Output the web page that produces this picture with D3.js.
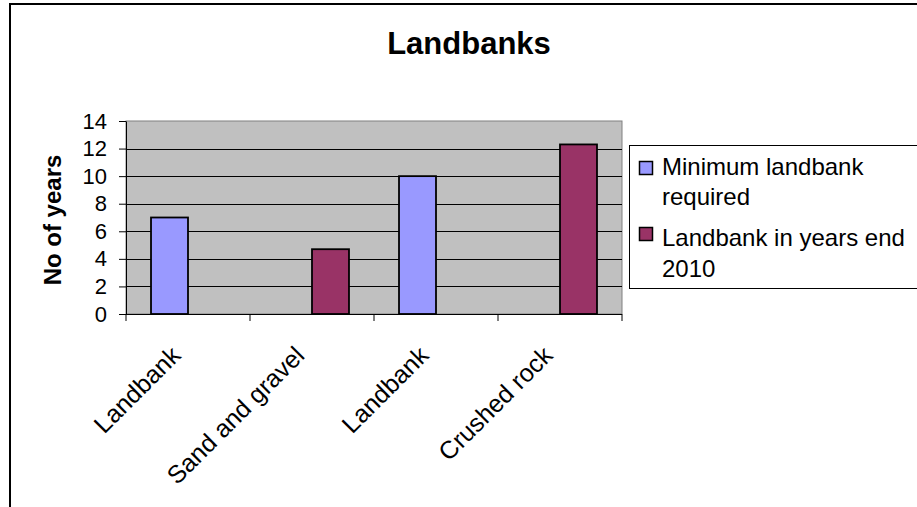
<!DOCTYPE html>
<html>
<head>
<meta charset="utf-8">
<script src="https://cdn.jsdelivr.net/npm/d3@7"></script>
<style>
  body { margin: 0; background: #fff; }
  svg { display: block; font-family: Arial, "Liberation Sans", sans-serif; }
</style>
</head>
<body>
<svg id="chart" width="917" height="507"></svg>
<script>
const categories = ["Landbank", "Sand and gravel", "Landbank", "Crushed rock"];
const seriesNames = ["Minimum landbank required", "Landbank in years end 2010"];
const minimumRequired = [7, null, 10, null];
const landbankEnd2010 = [null, 4.7, null, 12.3];
const yTicks = [0, 2, 4, 6, 8, 10, 12, 14];
const legendLines = [["Minimum landbank", "required"], ["Landbank in years end", "2010"]];
const colors = ["#9999FF", "#993366"];

const svg = d3.select("#chart");
const plot = { left: 126, right: 622, top: 121, bottom: 314 };

// outer chart border (right & bottom edges lie outside the window)
svg.append("rect").attr("x", 10).attr("y", 4).attr("width", 1000).attr("height", 1000)
  .attr("fill", "#fff").attr("stroke", "#000").attr("stroke-width", 2);

// title
svg.append("text").attr("x", 469).attr("y", 54).attr("text-anchor", "middle")
  .attr("font-size", 31).attr("font-weight", "bold").text("Landbanks");

const y = d3.scaleLinear().domain([0, 14]).range([plot.bottom, plot.top]);
const x0 = d3.scaleBand().domain(d3.range(categories.length)).range([plot.left, plot.right]).padding(0);
const x1 = d3.scaleBand().domain([0, 1]).range([0, x0.bandwidth()]).paddingInner(0).paddingOuter(0.676);

// plot background
svg.append("rect").attr("x", plot.left).attr("y", plot.top)
  .attr("width", plot.right - plot.left).attr("height", plot.bottom - plot.top)
  .attr("fill", "#C0C0C0").attr("stroke", "#808080").attr("stroke-width", 1);

// gridlines
svg.append("g").selectAll("line").data(yTicks.filter(t => t > 0 && t < 14)).join("line")
  .attr("x1", plot.left).attr("x2", plot.right)
  .attr("y1", d => Math.round(y(d)) + 0.5).attr("y2", d => Math.round(y(d)) + 0.5)
  .attr("stroke", "#000").attr("stroke-width", 1);

// bars
const series = [minimumRequired, landbankEnd2010];
series.forEach((vals, si) => {
  svg.append("g").selectAll("rect")
    .data(vals.map((v, i) => ({ v, i })).filter(d => d.v != null))
    .join("rect")
    .attr("x", d => x0(d.i) + x1(si))
    .attr("width", x1.bandwidth())
    .attr("y", d => y(d.v))
    .attr("height", d => y(0) - y(d.v))
    .attr("fill", colors[si]).attr("stroke", "#000").attr("stroke-width", 1.8);
});

// y axis
const yAxis = svg.append("g").attr("transform", `translate(${plot.left},0)`)
  .call(d3.axisLeft(y).tickValues(yTicks).tickSizeInner(7).tickSizeOuter(0).tickPadding(12));
yAxis.attr("font-size", null).attr("font-family", null);
yAxis.selectAll("text").style("font-size", "22px").attr("fill", "#000")
  .style("font-family", 'Arial, "Liberation Sans", sans-serif');
yAxis.selectAll("line, path").attr("stroke", "#000");

// x axis line and ticks at category boundaries
svg.append("line").attr("x1", plot.left).attr("x2", plot.right)
  .attr("y1", plot.bottom + 0.5).attr("y2", plot.bottom + 0.5).attr("stroke", "#000");
const boundaries = d3.range(categories.length + 1).map(i => plot.left + i * x0.step());
svg.append("g").selectAll("line").data(boundaries).join("line")
  .attr("x1", d => d).attr("x2", d => d)
  .attr("y1", plot.bottom).attr("y2", plot.bottom + 7).attr("stroke", "#000");

// x labels rotated
svg.append("g").selectAll("text").data(categories).join("text")
  .attr("transform", (d, i) => `translate(${x0(i) + x0.bandwidth() / 2 - 6},357) rotate(-45)`)
  .attr("text-anchor", "end").attr("font-size", 25).text(d => d);

// y axis title
svg.append("text").attr("transform", "translate(61,220) rotate(-90)")
  .attr("text-anchor", "middle").attr("font-size", 24).attr("font-weight", "bold").text("No of years");

// legend
const lg = svg.append("g");
lg.append("rect").attr("x", 629.5).attr("y", 145.5).attr("width", 400).attr("height", 143)
  .attr("fill", "#fff").attr("stroke", "#000").attr("stroke-width", 1);
const itemY = [161, 227];
const baseY = [[174.5, 205], [246, 276.5]];
seriesNames.forEach((name, i) => {
  lg.append("rect").attr("x", 639.5).attr("y", itemY[i] + 0.5).attr("width", 13).attr("height", 13)
    .attr("fill", colors[i]).attr("stroke", "#000").attr("stroke-width", 1.5);
  legendLines[i].forEach((ln, j) => {
    lg.append("text").attr("x", 662).attr("y", baseY[i][j]).attr("font-size", 24).text(ln);
  });
});
</script>
</body>
</html>
